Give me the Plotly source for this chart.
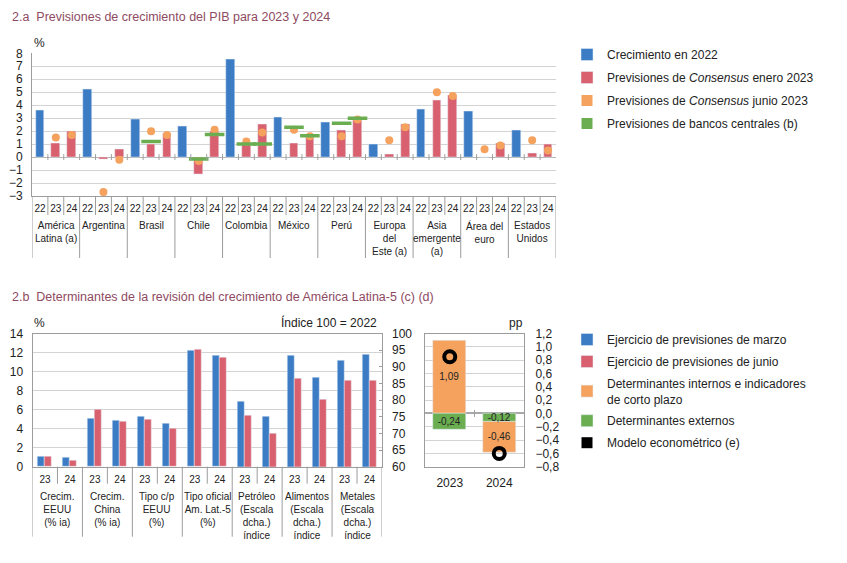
import plotly.graph_objects as go

W, H = 847, 563
OFF = 8
WF, HF = W - OFF, H - OFF


def px(x):
    return (x - OFF) / WF


def py(y):
    return 1 - (y - OFF) / HF


# ---------------- 2.a data ----------------
groups_a = ["América<br>Latina (a)", "Argentina", "Brasil", "Chile", "Colombia", "México", "Perú",
            "Europa<br>del<br>Este (a)", "Asia<br>emergente<br>(a)", "Área del<br>euro", "Estados<br>Unidos"]
years_a = ["22", "23", "24"]
crec_2022 = [3.6, 5.2, 2.9, 2.4, 7.5, 3.1, 2.7, 1.0, 3.7, 3.5, 2.1]
ene_2023 = [1.1, -0.2, 1.0, -1.3, 1.0, 1.1, 2.1, 0.2, 4.4, 0.0, 0.3]
ene_2024 = [2.0, 0.6, 1.8, 2.0, 2.5, 1.5, 2.8, 2.5, 4.8, 1.1, 1.0]
jun_2023 = [1.5, -2.7, 2.0, -0.3, 1.2, 2.1, 1.6, 1.3, 5.0, 0.6, 1.3]
jun_2024 = [1.7, -0.2, 1.7, 2.1, 1.9, 1.6, 2.9, 2.3, 4.7, 0.9, 0.5]
bc_2023 = [None, None, 1.2, -0.15, 1.0, 2.3, 2.6, None, None, None, None]
bc_2024 = [None, None, None, 1.75, 1.0, 1.65, 3.0, None, None, None, None]

# ---------------- 2.b data ----------------
groups_b = ["Crecim.<br>EEUU<br>(% ia)", "Crecim.<br>China<br>(% ia)", "Tipo c/p<br>EEUU<br>(%)",
            "Tipo oficial<br>Am. Lat.-5<br>(%)", "Petróleo<br>(Escala<br>dcha.)<br>índice",
            "Alimentos<br>(Escala<br>dcha.)<br>índice", "Metales<br>(Escala<br>dcha.)<br>índice"]
years_b = ["23", "24"]
n_pct_groups = 4
marzo_pct = [1.1, 1.0, 5.1, 4.9, 5.3, 4.55, 12.2, 11.7]
junio_pct = [1.05, 0.7, 6.0, 4.8, 5.0, 4.0, 12.3, 11.45]
marzo_idx = [79.7, 75.1, 93.4, 86.8, 92.0, 93.7]
junio_idx = [75.4, 70.1, 86.5, 80.1, 86.0, 85.9]

years_c = ["2023", "2024"]
internos = [1.09, -0.46]
externos = [-0.24, -0.12]
modelo = [0.85, -0.60]

# ---------------- styles ----------------
BLUE = "#3B7CC4"
PINK = "#D9606E"
ORANGE = "#F4A25E"
GREEN = "#6BAE52"
TXT = "#222222"
GRID = "#D3D3D3"
LINE = "#9C9C9C"
TITLE = "#8E4A62"
FONT = "Liberation Sans, Arial, sans-serif"

keys_a = [f"{g}|{y}" for g in groups_a for y in years_a]
x22 = [f"{g}|22" for g in groups_a]
x23 = [f"{g}|23" for g in groups_a]
x24 = [f"{g}|24" for g in groups_a]

keys_b = [f"{g}|{y}" for g in groups_b for y in years_b]
keys_pct = keys_b[: 2 * n_pct_groups]
keys_idx = keys_b[2 * n_pct_groups:]

fig = go.Figure()

# ---- 2.a traces
fig.add_trace(go.Bar(x=x22, y=crec_2022, marker_color=BLUE, width=0.55, name="Crecimiento en 2022",
                     xaxis="x", yaxis="y", legend="legend", legendgroup="a1"))
fig.add_trace(go.Bar(x=x23 + x24, y=ene_2023 + ene_2024, marker_color=PINK, width=0.55,
                     name="Previsiones de <i>Consensus</i> enero 2023",
                     xaxis="x", yaxis="y", legend="legend", legendgroup="a2"))
fig.add_trace(go.Scatter(x=x23 + x24, y=jun_2023 + jun_2024, mode="markers",
                         marker=dict(symbol="circle", size=8, color=ORANGE), showlegend=False,
                         xaxis="x", yaxis="y"))
fig.add_trace(go.Scatter(x=x23 + x24, y=bc_2023 + bc_2024, mode="markers",
                         marker=dict(symbol="line-ew", size=14, color=GREEN, line=dict(color=GREEN, width=3.5)),
                         showlegend=False, xaxis="x", yaxis="y"))
fig.add_trace(go.Scatter(x=[None], y=[None], mode="markers", marker=dict(symbol="square", size=11, color=ORANGE),
                         name="Previsiones de <i>Consensus</i> junio 2023", xaxis="x", yaxis="y",
                         legend="legend", legendgroup="a3"))
fig.add_trace(go.Scatter(x=[None], y=[None], mode="markers", marker=dict(symbol="square", size=11, color=GREEN),
                         name="Previsiones de bancos centrales (b)", xaxis="x", yaxis="y",
                         legend="legend", legendgroup="a4"))

# ---- 2.b left traces
BW = 0.28
fig.add_trace(go.Bar(x=keys_pct, y=marzo_pct, marker_color=BLUE, width=BW, offset=-BW,
                     name="Ejercicio de previsiones de marzo", xaxis="x2", yaxis="y2",
                     legend="legend2", legendgroup="b1"))
fig.add_trace(go.Bar(x=keys_pct, y=junio_pct, marker_color=PINK, width=BW, offset=0,
                     name="Ejercicio de previsiones de junio", xaxis="x2", yaxis="y2",
                     legend="legend2", legendgroup="b2"))
fig.add_trace(go.Bar(x=keys_idx, y=marzo_idx, marker_color=BLUE, width=BW, offset=-BW,
                     showlegend=False, xaxis="x2", yaxis="y3"))
fig.add_trace(go.Bar(x=keys_idx, y=junio_idx, marker_color=PINK, width=BW, offset=0,
                     showlegend=False, xaxis="x2", yaxis="y3"))

# ---- 2.b right (waterfall) traces
base_int = [e if (e < 0 and i < 0) or (e > 0 and i > 0) else 0 for i, e in zip(internos, externos)]


def fmt(v):
    return f"{v:.2f}".replace(".", ",")


fig.add_trace(go.Bar(x=years_c, y=internos, base=base_int, marker_color=ORANGE, width=0.67,
                     text=[fmt(v) for v in internos], textposition="inside", insidetextanchor="middle",
                     constraintext="none", textangle=0, textfont=dict(size=10, color=TXT),
                     name="Determinantes internos e indicadores<br>de corto plazo", xaxis="x4", yaxis="y4",
                     legend="legend2", legendgroup="b3"))
fig.add_trace(go.Bar(x=years_c, y=externos, marker_color=GREEN, width=0.67,
                     text=[fmt(v) for v in externos], textposition="inside", insidetextanchor="middle",
                     constraintext="none", textangle=0, textfont=dict(size=10, color=TXT),
                     name="Determinantes externos", xaxis="x4", yaxis="y4",
                     legend="legend2", legendgroup="b4"))
fig.add_trace(go.Scatter(x=years_c, y=modelo, mode="markers",
                         marker=dict(symbol="circle-open", size=11, color="black", line=dict(color="black", width=4)),
                         showlegend=False, xaxis="x4", yaxis="y4"))
fig.add_trace(go.Scatter(x=[None], y=[None], mode="markers", marker=dict(symbol="square", size=11, color="black"),
                         name="Modelo econométrico (e)", xaxis="x4", yaxis="y4",
                         legend="legend2", legendgroup="b5"))

# ---------------- domains ----------------
xa_dom = [px(32), px(556)]
ya_dom = [py(196), py(53.3)]
xb_dom = [px(32.5), px(382)]
yb_dom = [py(466.7), py(333.5)]
xc_dom = [px(425), px(524)]

axfont = dict(family=FONT, size=12, color=TXT)

fig.update_layout(
    width=WF, height=HF, margin=dict(l=0, r=0, t=0, b=0, autoexpand=False),
    paper_bgcolor="white", plot_bgcolor="white",
    font=dict(family=FONT, size=12, color=TXT),
    barmode="overlay", bargap=0, separators=",.",
    xaxis=dict(domain=xa_dom, anchor="y", type="category", categoryorder="array", categoryarray=keys_a,
               tickvals=keys_a, ticktext=[y for g in groups_a for y in years_a], ticks="",
               tickfont=dict(family=FONT, size=10, color=TXT), ticklabelstandoff=3,
               showline=True, linecolor=LINE, linewidth=1, showgrid=False, range=[-0.5, len(keys_a) - 0.5]),
    yaxis=dict(domain=ya_dom, anchor="x", range=[-3, 8], dtick=1, showgrid=True, gridcolor=GRID,
               zeroline=True, zerolinecolor="#B4B4B4", zerolinewidth=1, showline=True, linecolor=LINE,
               ticks="", tickfont=axfont, ticklabelstandoff=6),
    xaxis2=dict(domain=xb_dom, anchor="y2", type="category", categoryorder="array", categoryarray=keys_b,
                tickvals=keys_b, ticktext=[y for g in groups_b for y in years_b], ticks="",
                tickfont=dict(family=FONT, size=10, color=TXT), ticklabelstandoff=3,
                showline=True, mirror=True, linecolor=LINE, showgrid=False, range=[-0.5, len(keys_b) - 0.5]),
    yaxis2=dict(domain=yb_dom, anchor="x2", range=[0, 14], dtick=2, showgrid=True, gridcolor=GRID,
                zeroline=False, showline=True, mirror=True, linecolor=LINE, ticks="", tickfont=axfont,
                ticklabelstandoff=6),
    yaxis3=dict(overlaying="y2", anchor="x2", side="right", range=[60, 100], dtick=5, showgrid=False,
                zeroline=False, showline=False, ticks="inside", ticklen=3, tickcolor=LINE,
                tickfont=axfont, ticklabelstandoff=9),
    xaxis4=dict(domain=xc_dom, anchor="y4", type="category", ticks="", tickfont=axfont,
                ticklabelstandoff=5, showline=True, mirror=True, linecolor=LINE, showgrid=False,
                range=[-0.5, 1.5]),
    yaxis4=dict(domain=yb_dom, anchor="x4", side="right", range=[-0.8, 1.2], dtick=0.2, tick0=0,
                tickformat=".1f", showgrid=True, gridcolor=GRID, zeroline=True, zerolinecolor="#A8A8A8",
                showline=True, mirror=True, linecolor=LINE, ticks="", tickfont=axfont, ticklabelstandoff=8),
    legend=dict(x=px(567), y=py(40), xanchor="left", yanchor="top", font=dict(family=FONT, size=12, color=TXT),
                bgcolor="rgba(0,0,0,0)", tracegroupgap=4, traceorder="grouped"),
    legend2=dict(x=px(567), y=py(325), xanchor="left", yanchor="top", font=dict(family=FONT, size=12, color=TXT),
                 bgcolor="rgba(0,0,0,0)", tracegroupgap=3, traceorder="grouped"),
)

# ---------------- separators (shapes) ----------------
shapes = []
n_a = len(keys_a)
for i in range(n_a + 1):
    xb = i - 0.5
    long_ = (i % len(years_a) == 0)
    shapes.append(dict(type="line", xref="x", yref="paper", x0=xb, x1=xb, ysizemode="pixel",
                       yanchor=ya_dom[0], y0=0, y1=-62 if long_ else -19, line=dict(color=LINE, width=1)))
    if 0 < i < n_a:
        shapes.append(dict(type="line", xref="x", yref="y", x0=xb, x1=xb, ysizemode="pixel",
                           yanchor=0, y0=-3, y1=3, line=dict(color="#A0A0A0", width=1)))
n_b = len(keys_b)
for i in range(n_b + 1):
    xb = i - 0.5
    long_ = (i % len(years_b) == 0)
    shapes.append(dict(type="line", xref="x2", yref="paper", x0=xb, x1=xb, ysizemode="pixel",
                       yanchor=yb_dom[0], y0=0, y1=-70 if long_ else -17, line=dict(color=LINE, width=1)))
shapes.append(dict(type="line", xref="x4", yref="y4", x0=0.5, x1=0.5, ysizemode="pixel",
                   yanchor=0, y0=-3.5, y1=3.5, line=dict(color="#A0A0A0", width=1)))
fig.update_layout(shapes=shapes)

# ---------------- annotations ----------------
ann = []
for gi, g in enumerate(groups_a):
    ann.append(dict(x=gi * len(years_a) + 1, xref="x", y=ya_dom[0], yref="paper", yshift=-22,
                    text=g, showarrow=False, xanchor="center", yanchor="top",
                    font=dict(family=FONT, size=10, color=TXT)))
for gi, g in enumerate(groups_b):
    ann.append(dict(x=gi * len(years_b) + 0.5, xref="x2", y=yb_dom[0], yref="paper", yshift=-22,
                    text=g, showarrow=False, xanchor="center", yanchor="top",
                    font=dict(family=FONT, size=10, color=TXT)))

ann += [
    dict(x=px(10), y=py(17), xref="paper", yref="paper", xanchor="left", yanchor="middle", showarrow=False,
         text="2.a\u00a0 Previsiones de crecimiento del PIB para 2023 y 2024",
         font=dict(family=FONT, size=12.5, color=TITLE)),
    dict(x=px(10), y=py(297), xref="paper", yref="paper", xanchor="left", yanchor="middle", showarrow=False,
         text="2.b\u00a0 Determinantes de la revisión del crecimiento de América Latina-5 (c) (d)",
         font=dict(family=FONT, size=12.5, color=TITLE)),
    dict(x=px(32), y=py(43), xref="paper", yref="paper", xanchor="left", yanchor="middle", showarrow=False,
         text="%", font=dict(family=FONT, size=12, color=TXT)),
    dict(x=px(32), y=py(323), xref="paper", yref="paper", xanchor="left", yanchor="middle", showarrow=False,
         text="%", font=dict(family=FONT, size=12, color=TXT)),
    dict(x=px(379), y=py(322), xref="paper", yref="paper", xanchor="right", yanchor="middle", showarrow=False,
         text="Índice 100 = 2022", font=dict(family=FONT, size=12, color=TXT)),
    dict(x=px(516), y=py(323), xref="paper", yref="paper", xanchor="center", yanchor="middle", showarrow=False,
         text="pp", font=dict(family=FONT, size=12, color=TXT)),
]
fig.update_layout(annotations=ann)

fig.write_html("out.html")
